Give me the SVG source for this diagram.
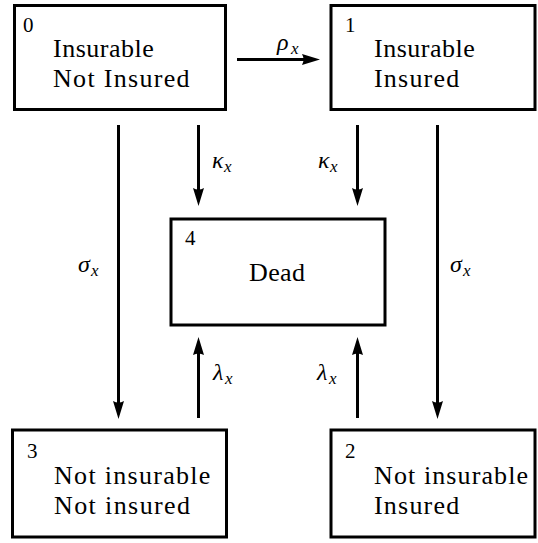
<svg xmlns="http://www.w3.org/2000/svg" width="538" height="543" viewBox="0 0 538 543">
<style>
.box{fill:#fff;stroke:#000;stroke-width:3}
.c{fill:none;stroke:#000;stroke-width:3}
</style>
<defs>
<marker id="ah" markerUnits="userSpaceOnUse" markerWidth="18" markerHeight="12" viewBox="0 0 18 12" refX="10" refY="6" orient="auto">
<path d="M0,0.5 L18,6 L0,11.5 Q3,6 0,0.5 Z" fill="#000"/>
</marker>
</defs>
<rect width="538" height="543" fill="#fff"/>
<g id="connectors">
<path class="c" d="M237,59.5 L312,59.5" marker-end="url(#ah)"/>
<path class="c" d="M198.5,125 L198.5,198" marker-end="url(#ah)"/>
<path class="c" d="M357.5,125 L357.5,198" marker-end="url(#ah)"/>
<path class="c" d="M118.5,125 L118.5,411" marker-end="url(#ah)"/>
<path class="c" d="M437.5,125 L437.5,411" marker-end="url(#ah)"/>
<path class="c" d="M198.5,418 L198.5,345" marker-end="url(#ah)"/>
<path class="c" d="M357.5,418 L357.5,345" marker-end="url(#ah)"/>
<text x="277" y="50" font-family="Liberation Serif, serif" font-style="italic" font-size="24">ρ</text>
<text x="291" y="54" font-family="Liberation Serif, serif" font-style="italic" font-size="17">x</text>
<text x="212" y="168" font-family="Liberation Serif, serif" font-style="italic" font-size="24">κ</text>
<text x="224" y="172" font-family="Liberation Serif, serif" font-style="italic" font-size="17">x</text>
<text x="318" y="168" font-family="Liberation Serif, serif" font-style="italic" font-size="24">κ</text>
<text x="330" y="172" font-family="Liberation Serif, serif" font-style="italic" font-size="17">x</text>
<text x="78" y="272" font-family="Liberation Serif, serif" font-style="italic" font-size="24">σ</text>
<text x="91" y="276" font-family="Liberation Serif, serif" font-style="italic" font-size="17">x</text>
<text x="450" y="272" font-family="Liberation Serif, serif" font-style="italic" font-size="24">σ</text>
<text x="463" y="276" font-family="Liberation Serif, serif" font-style="italic" font-size="17">x</text>
<text x="213" y="380" font-family="Liberation Serif, serif" font-style="italic" font-size="24">λ</text>
<text x="225" y="384" font-family="Liberation Serif, serif" font-style="italic" font-size="17">x</text>
<text x="317" y="380" font-family="Liberation Serif, serif" font-style="italic" font-size="24">λ</text>
<text x="329" y="384" font-family="Liberation Serif, serif" font-style="italic" font-size="17">x</text>
</g>
<g id="node0">
<rect class="box" x="14.5" y="5.5" width="211" height="104"/>
<text x="23" y="32" font-family="Liberation Serif, serif" font-size="21">0</text>
<text x="53" y="57" font-family="Liberation Serif, serif" font-size="26" letter-spacing="0.5">Insurable</text>
<text x="53" y="87" font-family="Liberation Serif, serif" font-size="26" letter-spacing="1.3">Not Insured</text>
</g>
<g id="node1">
<rect class="box" x="331" y="5.5" width="204" height="104"/>
<text x="345" y="32" font-family="Liberation Serif, serif" font-size="21">1</text>
<text x="374" y="57" font-family="Liberation Serif, serif" font-size="26" letter-spacing="0.5">Insurable</text>
<text x="374" y="87" font-family="Liberation Serif, serif" font-size="26" letter-spacing="1.2">Insured</text>
</g>
<g id="node4">
<rect class="box" x="171" y="219" width="214" height="106"/>
<text x="185" y="245" font-family="Liberation Serif, serif" font-size="21">4</text>
<text x="249" y="281" font-family="Liberation Serif, serif" font-size="26" letter-spacing="0.4">Dead</text>
</g>
<g id="node3">
<rect class="box" x="12.5" y="430" width="214" height="107"/>
<text x="27" y="458" font-family="Liberation Serif, serif" font-size="21">3</text>
<text x="54" y="484" font-family="Liberation Serif, serif" font-size="26" letter-spacing="1.3">Not insurable</text>
<text x="54" y="514" font-family="Liberation Serif, serif" font-size="26" letter-spacing="1.4">Not insured</text>
</g>
<g id="node2">
<rect class="box" x="331" y="430" width="204" height="107"/>
<text x="345" y="458" font-family="Liberation Serif, serif" font-size="21">2</text>
<text x="374" y="484" font-family="Liberation Serif, serif" font-size="26" letter-spacing="1.1">Not insurable</text>
<text x="374" y="514" font-family="Liberation Serif, serif" font-size="26" letter-spacing="1.2">Insured</text>
</g>
</svg>
